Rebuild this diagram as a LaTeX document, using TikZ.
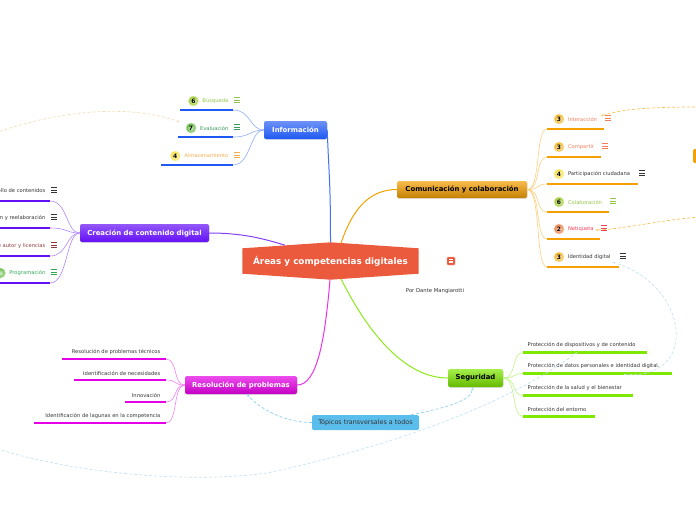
\documentclass[tikz,border=0pt]{standalone}
\usepackage{fontspec}
\setmainfont{DejaVu Sans}
\usetikzlibrary{shapes,arrows.meta,positioning,calc,backgrounds,shadows}
\definecolor{rootred}{HTML}{EC5A3E}
\definecolor{infoblue}{HTML}{1F58F2}
\definecolor{creapurple}{HTML}{6410F6}
\definecolor{commorange}{HTML}{F5A000}
\definecolor{segugreen}{HTML}{7FE800}
\definecolor{resolmag}{HTML}{E600E6}
\definecolor{topicblue}{HTML}{5BBDEB}
\definecolor{relblue}{HTML}{C6E2F4}
\definecolor{relorange}{HTML}{F8C45A}
\definecolor{relbeige}{HTML}{F0DDB8}
\definecolor{txtdark}{HTML}{333333}
\definecolor{txtlgreen}{HTML}{94C34A}
\definecolor{txtdgreen}{HTML}{3A9A5A}
\definecolor{txtlorange}{HTML}{F5AE4E}
\definecolor{txtsalmon}{HTML}{F47E5A}
\definecolor{txtred}{HTML}{F0405A}
\definecolor{txtdred}{HTML}{8E3A3A}
\definecolor{txtpgreen}{HTML}{2EAA55}
\definecolor{bgreen}{HTML}{9CCB2A}
\definecolor{bdgreen}{HTML}{5DB83A}
\definecolor{byellow}{HTML}{F7DF40}
\definecolor{bamber}{HTML}{F5B41E}
\definecolor{borange}{HTML}{F07A3A}
\newcommand\fsz[1]{\fontsize{#1}{#1}\selectfont}

\begin{document}
\begin{tikzpicture}[x=1pt, y=-1pt,
  branch/.style={rectangle, rounded corners=2pt, inner sep=0pt, minimum height=18pt, font=\fsz{6.9}\bfseries, drop shadow={opacity=0.25, shadow xshift=0.5pt, shadow yshift=-0.8pt}},
  leaf/.style={font=\fsz{5.2}, inner sep=0.5pt},
  badge/.style={circle, shading=radial, inner color=#1!25!white, outer color=#1, draw=#1!35!white, line width=0.6pt, inner sep=0pt, minimum size=10pt, font=\fsz{6}\bfseries, text=black},
  uline/.style={line width=2.2pt, #1},
  twig/.style={line width=0.6pt, #1!50!white},
  limb/.style={line width=1pt, #1},
  rel/.style={dash pattern=on 3pt off 2pt, line width=0.7pt, #1},
  noteicon/.pic={\foreach \k in {-2.2,0,2.2}{\draw[line width=0.7pt] (-2.6,\k) -- (2.6,\k);}}
]
  \useasboundingbox (0,0) rectangle (696,520);
  \clip (0,0) rectangle (696,520);

  % central topic
  \node[font=\fsz{8.8}\bfseries, text=white, minimum width=176pt, minimum height=25pt, inner sep=0pt] (root) at (330.5,261) {Áreas y competencias digitales};
  \coordinate (rtop) at ($(root.north)+(0,-6)$);
  \coordinate (rbot) at ($(root.south)+(0,6)$);
  \begin{scope}[on background layer]
    \fill[rootred] (root.north west) -- (rtop) -- (root.north east) -- (root.south east) -- (rbot) -- (root.south west) -- cycle;
  \end{scope}
  \node[fill=rootred, draw=rootred!60!white, line width=0.4pt, rounded corners=1pt, minimum size=8pt, inner sep=0pt] (note) at (451,261) {};
  \pic[white, scale=0.6] at (note) {noteicon};
  \node[font=\fsz{5.3}, text=txtdark] (author) at (435,291) {Por Dante Mangiarotti};

  % main branches
  \node[branch, top color=infoblue!65!white, bottom color=infoblue, text=white, minimum width=63pt] (info) at (295.5,130) {Información};
  \node[branch, top color=creapurple!70!white, bottom color=creapurple, text=white, minimum width=129pt] (crea) at (144.5,233) {Creación de contenido digital};
  \node[branch, top color=commorange!70!white, bottom color=commorange!80!black, text=black, minimum width=130pt, minimum height=17pt] (comm) at (462,189.5) {Comunicación y colaboración};
  \node[branch, top color=segugreen!70!white, bottom color=segugreen!80!black, text=black, minimum width=55pt] (segur) at (475.5,378) {Seguridad};
  \node[branch, top color=resolmag!70!white, bottom color=resolmag!85!black, text=white, minimum width=112pt] (resol) at (241,385) {Resolución de problemas};
  \node[rectangle, rounded corners=1.5pt, fill=topicblue, text=txtdark, font=\fsz{6.4}, minimum width=107pt, minimum height=15pt, inner sep=0pt] (topics) at (365.5,422.5) {Tópicos transversales a todos};
  \node[fill=commorange, rounded corners=1.5pt, minimum width=14pt, minimum height=14pt, inner sep=0pt] (offnode) at (700,156) {};

  \coordinate (rcrea) at (285,245.2);
  \coordinate (rcomm) at (341,243.2);
  \coordinate (rres) at (330,279.5);
  \coordinate (rseg) at (341,278.8);
  \draw[limb=infoblue!85!white] (rtop) .. controls +(0,-60) and +(2,50) .. (info.east);
  \draw[limb=creapurple!80!white] (crea.east) .. controls +(35,0) and +(-20,-6) .. (rcrea);
  \draw[limb=commorange] (rcomm) .. controls +(10,-30) and +(-30,0) .. (comm.west);
  \draw[limb=resolmag!80!white] (rres) .. controls +(-5,60) and +(20,0) .. (resol.east);
  \draw[limb=segugreen!90!white] (rseg) .. controls +(30,60) and +(-40,0) .. (segur.west);

  % Información
  \foreach \n/\num/\bc/\lbl/\tc/\y/\xl in {1/6/bgreen/Búsqueda/txtlgreen/101/180, 2/7/bdgreen/Evaluación/txtdgreen/128/178, 3/4/byellow/Almacenamiento/txtlorange/156/161}{
    \node[leaf, anchor=east, text=\tc] (inf\n) at (229,\y) {\lbl};
    \node[badge=\bc, left=3pt of inf\n] (infb\n) {\num};
    \pic[color=\tc] at (237,\y-1) {noteicon};
    \coordinate (infl\n) at (\xl,\y+9);
    \coordinate (infr\n) at (233,\y+9);
    \draw[uline=infoblue] (infl\n) -- (infr\n);
    \draw[twig=infoblue] (infr\n) .. controls +(18,0) and +(-14,0) .. (info.west);
  }

  % Creación de contenido digital
  \foreach \n/\lbl/\tc/\y in {1/Desarrollo de contenidos/txtdark/191, 2/Integración y reelaboración/txtdark/218, 3/Derechos de autor y licencias/txtdred/246, 4/Programación/txtpgreen/273}{
    \node[leaf, anchor=east, text=\tc] (cre\n) at (46,\y) {\lbl};
    \pic[color=\tc] at (54,\y-1) {noteicon};
    \coordinate (crel\n) at (-5,\y+10);
    \coordinate (crer\n) at (50,\y+10);
    \draw[uline=creapurple] (crel\n) -- (crer\n);
    \draw[twig=creapurple] (crer\n) .. controls +(18,0) and +(-14,0) .. (crea.west);
  }
  \node[badge=bdgreen, left=3pt of cre4] (creb4) {};

  % Comunicación y colaboración
  \foreach \n/\num/\bc/\lbl/\tc/\y/\xr in {1/3/bamber/Interacción/txtsalmon/119/604, 2/3/bamber/Compartir/txtsalmon/147/601, 3/4/byellow/Participación ciudadana/txtdark/174/638, 4/6/bgreen/Colaboración/txtlgreen/202/609, 5/2/borange/Netiqueta/txtred/229/600, 6/3/bamber/Identidad digital/txtdark/257/619}{
    \node[badge=\bc] (comb\n) at (559,\y) {\num};
    \node[leaf, text=\tc, right=3pt of comb\n] (com\n) {\lbl};
    \pic[color=\tc] at (\xr+4,\y-1) {noteicon};
    \coordinate (coml\n) at (547,\y+10);
    \coordinate (comr\n) at (\xr,\y+10);
    \draw[uline=commorange] (coml\n) -- (comr\n);
    \draw[twig=commorange] (comm.east) .. controls +(14,0) and +(-12,0) .. (coml\n);
  }

  % Seguridad
  \foreach \n/\lbl/\y/\xr in {1/Protección de dispositivos y de contenido/345/647, 2/Protección de datos personales e identidad digital./366/672, 3/Protección de la salud y el bienestar/388/633, 4/Protección del entorno/409/595}{
    \node[leaf, anchor=west, text=txtdark] (seg\n) at (527,\y) {\lbl};
    \coordinate (segl\n) at (523,\y+7.5);
    \coordinate (segr\n) at (\xr,\y+7.5);
    \draw[uline=segugreen] (segl\n) -- (segr\n);
    \draw[twig=segugreen] (segur.east) .. controls +(14,0) and +(-12,0) .. (segl\n);
  }

  % Resolución de problemas
  \foreach \n/\lbl/\y/\xl in {1/Resolución de problemas técnicos/352/62, 2/Identificación de necesidades/373/74, 3/Innovación/395/125, 4/Identificación de lagunas en la competencia/416/34}{
    \node[leaf, anchor=east, text=txtdark] (res\n) at (161,\y) {\lbl};
    \coordinate (resl\n) at (\xl,\y+7);
    \coordinate (resr\n) at (166,\y+7);
    \draw[uline=resolmag] (resl\n) -- (resr\n);
    \draw[twig=resolmag] (resr\n) .. controls +(12,0) and +(-12,0) .. (resol.west);
  }

  % relations
  \coordinate (offl) at (-5,133);
  \coordinate (offr1) at (700,107);
  \coordinate (offr2) at (700,217);
  \coordinate (offl2) at (-5,448);
  \coordinate (relmid) at (267,473);
  \draw[rel=relbeige, -{Stealth[length=3pt]}] (offl) .. controls (60,110) and (130,104) .. ($(infb2.west)+(-6,-6)$);
  \draw[rel=relorange, -{Stealth[length=3pt]}] (offr1) .. controls (660,107) and (625,108) .. ($(com1.east)+(3,-3)$);
  \draw[rel=relorange, -{Stealth[length=3pt]}] (offr2) .. controls (660,220) and (625,229) .. ($(com5.east)+(1,1)$);
  \draw[rel=topicblue!70!white, -{Stealth[length=3pt]}] (topics.west) .. controls +(-30,0) and +(10,12) .. ($(resol.south)+(6,0)$);
  \draw[rel=topicblue!70!white, -{Stealth[length=3pt]}] ($(topics.north east)+(-8,0)$) .. controls +(30,-6) and +(0,14) .. ($(segur.south)+(-3,0)$);
  \draw[rel=relblue] ($(segl1)+(54,0)$) .. controls (520,395) and (420,440) .. (relmid) .. controls (180,485) and (60,470) .. (offl2);
  \draw[rel=relblue, -{Stealth[length=3pt]}] ($(segr2)+(-48,1)$) .. controls (700,381) and (690,285) .. ($(com6.east)+(1,5)$);
\end{tikzpicture}
\end{document}
